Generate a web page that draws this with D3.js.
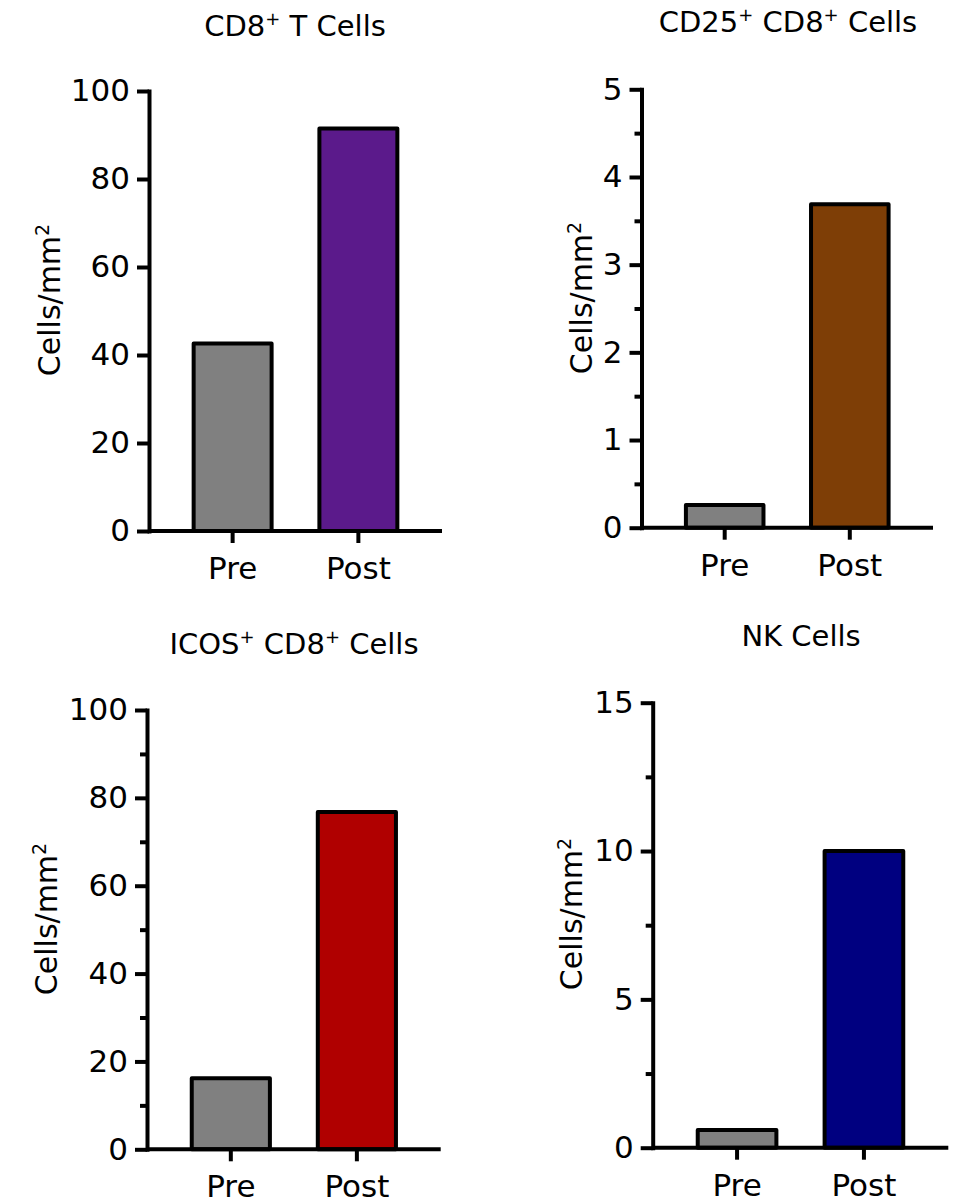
<!DOCTYPE html>
<html>
<head>
<meta charset="utf-8">
<script src="https://cdn.jsdelivr.net/npm/d3@7"></script>
<style>
  body { margin: 0; background: #fff; }
  svg text { font-family: "DejaVu Sans", sans-serif; fill: #000; }
</style>
</head>
<body>
<div id="chart"></div>
<script>
// data
var categories = ["Pre", "Post"];
var titles = [["CD8", "+", " T Cells"], ["CD25", "+", " CD8", "+", " Cells"],
              ["ICOS", "+", " CD8", "+", " Cells"], ["NK Cells"]];
var cd8Values = [42.6, 91.5];
var cd25Values = [0.26, 3.69];
var icosValues = [16.2, 76.8];
var nkValues = [0.6, 10];
var yMax = [100, 5, 100, 15];
var majorTicks = [[0, 20, 40, 60, 80, 100], [0, 1, 2, 3, 4, 5],
                  [0, 20, 40, 60, 80, 100], [0, 5, 10, 15]];
var minorTicks = [[], [0.5, 1.5, 2.5, 3.5, 4.5],
                  [10, 30, 50, 70, 90], [2.5, 7.5, 12.5]];
var allValues = [cd8Values, cd25Values, icosValues, nkValues];

// styles
var preColor = "#808080";
var postColors = ["#5b1a8b", "#7e3e06", "#b00000", "#000080"];

// where each panel sits on the page
var layout = [
  { ax: 149,   y0: 531,    y1: 91,    xEnd: 442,   labX: 60,  labY: 300, tx: 295, ty: 36 },
  { ax: 641.5, y0: 527.7,  y1: 89.3,  xEnd: 933,   labX: 592, labY: 298, tx: 788, ty: 32 },
  { ax: 147,   y0: 1149.3, y1: 710,   xEnd: 440.7, labX: 57,  labY: 919, tx: 294, ty: 654 },
  { ax: 652.7, y0: 1147.7, y1: 702.7, xEnd: 948.3, labX: 582, labY: 914, tx: 801, ty: 646 }
];

var width = 959, height = 1202;

var svg = d3.select("#chart").append("svg")
  .attr("width", width)
  .attr("height", height);

layout.forEach(function(L, i) {
  var g = svg.append("g");
  var values = allValues[i];

  var y = d3.scaleLinear().domain([0, yMax[i]]).range([L.y0, L.y1]);
  var x = d3.scaleBand().domain(categories).range([L.ax, L.xEnd])
    .paddingInner(0.38).paddingOuter(0.355);

  // bars
  g.selectAll("rect")
    .data(values)
    .enter().append("rect")
      .attr("x", function(d, j) { return x(categories[j]); })
      .attr("width", x.bandwidth())
      .attr("y", function(d) { return y(d); })
      .attr("height", function(d) { return L.y0 - y(d); })
      .style("fill", function(d, j) { return j == 0 ? preColor : postColors[i]; })
      .style("stroke", "#000")
      .style("stroke-width", 4)
      .style("stroke-linejoin", "round");

  // minor ticks
  g.append("g")
    .attr("transform", "translate(" + L.ax + ",0)")
    .call(d3.axisLeft(y).tickValues(minorTicks[i]).tickSize(7).tickFormat(""))
    .call(function(a) { a.select(".domain").remove(); })
    .selectAll("line").style("stroke-width", 4);

  // y axis
  var yAxis = g.append("g")
    .attr("transform", "translate(" + L.ax + ",0)")
    .call(d3.axisLeft(y).tickValues(majorTicks[i]).tickFormat(d3.format("d"))
      .tickSize(12).tickSizeOuter(0).tickPadding(7));
  yAxis.select(".domain").style("stroke-width", 4).style("stroke-linecap", "square");
  yAxis.selectAll("line").style("stroke-width", 4);
  yAxis.selectAll("text").style("font-size", "31px");

  // x axis
  var xAxis = g.append("g")
    .attr("transform", "translate(0," + L.y0 + ")")
    .call(d3.axisBottom(x).tickSize(12).tickSizeOuter(0).tickPadding(14));
  xAxis.select(".domain").attr("d", "M" + L.ax + ",0H" + L.xEnd).style("stroke-width", 4);
  xAxis.selectAll("line").style("stroke-width", 4);
  xAxis.selectAll("text").style("font-size", "31px");

  // y label
  var lab = g.append("text")
    .attr("transform", "translate(" + L.labX + "," + L.labY + ") rotate(-90)")
    .style("text-anchor", "middle")
    .style("font-size", "30px");
  lab.append("tspan").text("Cells/mm");
  lab.append("tspan").attr("dy", -11).style("font-size", "19px").text("2");

  // title
  var t = g.append("text")
    .attr("x", L.tx).attr("y", L.ty)
    .style("text-anchor", "middle")
    .style("font-size", "29px");
  var up = false;
  titles[i].forEach(function(part) {
    var ts = t.append("tspan").text(part);
    if (part == "+") { ts.attr("dy", -11).style("font-size", "18px"); up = true; }
    else if (up) { ts.attr("dy", 11); up = false; }
  });
});
</script>
</body>
</html>
